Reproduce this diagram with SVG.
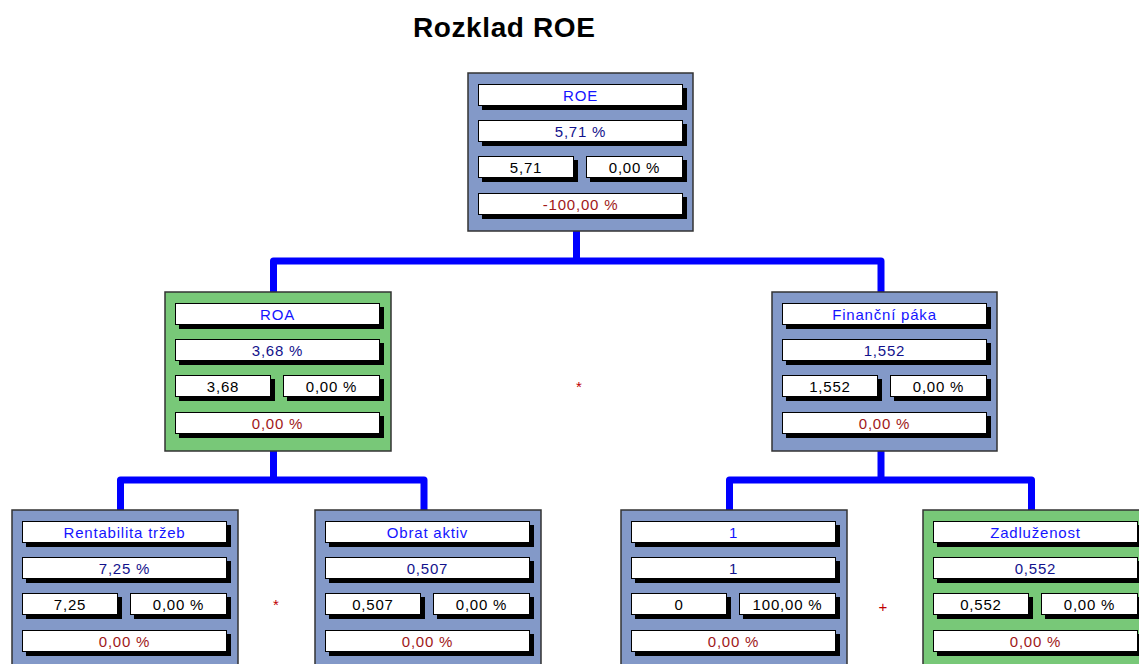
<svg xmlns="http://www.w3.org/2000/svg" xmlns:xlink="http://www.w3.org/1999/xlink" width="1139" height="664" viewBox="0 0 1139 664">
<style>
.bg{fill:#ffffff}
.box{stroke:#333333;stroke-width:1.5}
.blue{fill:#8399c8}
.green{fill:#78c878}
.sh{fill:#000000}
.fld{fill:#ffffff;stroke:#000000;stroke-width:1}
.conn{fill:none;stroke:#0000ff;stroke-width:7;stroke-linejoin:round}
text{font-family:"Liberation Sans",Arial,sans-serif;font-size:15px;letter-spacing:0.8px;text-anchor:middle}
.t1{fill:#1414ff}
.t2{fill:#12128c}
.t3{fill:#000000}
.t4{fill:#a01818}
.op{fill:#c00000;font-size:15px;letter-spacing:0}
.title{font-size:28px;font-weight:bold;fill:#000000;text-anchor:start;letter-spacing:0.6px}
</style>
<defs>
<g id="fields">
<rect class="sh" x="14" y="15" width="205" height="22"/>
<rect class="sh" x="14" y="51" width="205" height="22"/>
<rect class="sh" x="14" y="87" width="96" height="22"/>
<rect class="sh" x="122" y="87" width="97" height="22"/>
<rect class="sh" x="14" y="124" width="205" height="22"/>
<rect class="fld" x="10.5" y="11.5" width="204" height="21"/>
<rect class="fld" x="10.5" y="47.5" width="204" height="21"/>
<rect class="fld" x="10.5" y="83.5" width="95" height="21"/>
<rect class="fld" x="118.5" y="83.5" width="96" height="21"/>
<rect class="fld" x="10.5" y="120.5" width="204" height="21"/>
</g>
</defs>
<rect class="bg" x="0" y="0" width="1139" height="664"/>
<text class="title" x="413" y="37">Rozklad ROE</text>

<g id="connectors">
<path class="conn" d="M576.5 231 V261"/>
<path class="conn" d="M273.5 292 V261 H881 V292"/>
<path class="conn" d="M273.5 451 V480"/>
<path class="conn" d="M120.5 510 V480 H424 V510"/>
<path class="conn" d="M881 451 V480"/>
<path class="conn" d="M729.5 510 V480 H1031.5 V510"/>
</g>

<g id="node-roe" transform="translate(468,73)">
<rect class="box blue" x="0" y="0" width="225" height="158"/>
<use href="#fields" xlink:href="#fields"/>
<text class="t1" x="112.5" y="28">ROE</text>
<text class="t2" x="112.5" y="64">5,71 %</text>
<text class="t3" x="58" y="100">5,71</text>
<text class="t3" x="166.5" y="100">0,00 %</text>
<text class="t4" x="112.5" y="137">-100,00 %</text>
</g>

<g id="node-roa" transform="translate(165,292)">
<rect class="box green" x="0" y="0" width="226" height="159"/>
<use href="#fields" xlink:href="#fields"/>
<text class="t1" x="112.5" y="28">ROA</text>
<text class="t2" x="112.5" y="64">3,68 %</text>
<text class="t3" x="58" y="100">3,68</text>
<text class="t3" x="166.5" y="100">0,00 %</text>
<text class="t4" x="112.5" y="137">0,00 %</text>
</g>

<g id="node-financni-paka" transform="translate(772,292)">
<rect class="box blue" x="0" y="0" width="225" height="159"/>
<use href="#fields" xlink:href="#fields"/>
<text class="t1" x="112.5" y="28">Finanční páka</text>
<text class="t2" x="112.5" y="64">1,552</text>
<text class="t3" x="58" y="100">1,552</text>
<text class="t3" x="166.5" y="100">0,00 %</text>
<text class="t4" x="112.5" y="137">0,00 %</text>
</g>

<g id="node-rentabilita-trzeb" transform="translate(12,510)">
<rect class="box blue" x="0" y="0" width="226" height="160"/>
<use href="#fields" xlink:href="#fields"/>
<text class="t1" x="112.5" y="28">Rentabilita tržeb</text>
<text class="t2" x="112.5" y="64">7,25 %</text>
<text class="t3" x="58" y="100">7,25</text>
<text class="t3" x="166.5" y="100">0,00 %</text>
<text class="t4" x="112.5" y="137">0,00 %</text>
</g>

<g id="node-obrat-aktiv" transform="translate(315,510)">
<rect class="box blue" x="0" y="0" width="226" height="160"/>
<use href="#fields" xlink:href="#fields"/>
<text class="t1" x="112.5" y="28">Obrat aktiv</text>
<text class="t2" x="112.5" y="64">0,507</text>
<text class="t3" x="58" y="100">0,507</text>
<text class="t3" x="166.5" y="100">0,00 %</text>
<text class="t4" x="112.5" y="137">0,00 %</text>
</g>

<g id="node-one" transform="translate(621,510)">
<rect class="box blue" x="0" y="0" width="226" height="160"/>
<use href="#fields" xlink:href="#fields"/>
<text class="t1" x="112.5" y="28">1</text>
<text class="t2" x="112.5" y="64">1</text>
<text class="t3" x="58" y="100">0</text>
<text class="t3" x="166.5" y="100">100,00 %</text>
<text class="t4" x="112.5" y="137">0,00 %</text>
</g>

<g id="node-zadluzenost" transform="translate(923,510)">
<rect class="box green" x="0" y="0" width="226" height="160"/>
<use href="#fields" xlink:href="#fields"/>
<text class="t1" x="112.5" y="28">Zadluženost</text>
<text class="t2" x="112.5" y="64">0,552</text>
<text class="t3" x="58" y="100">0,552</text>
<text class="t3" x="166.5" y="100">0,00 %</text>
<text class="t4" x="112.5" y="137">0,00 %</text>
</g>

<g id="operators">
<text class="op" x="579" y="392">*</text>
<text class="op" x="276" y="610">*</text>
<text class="op" x="883" y="612">+</text>
</g>
</svg>
